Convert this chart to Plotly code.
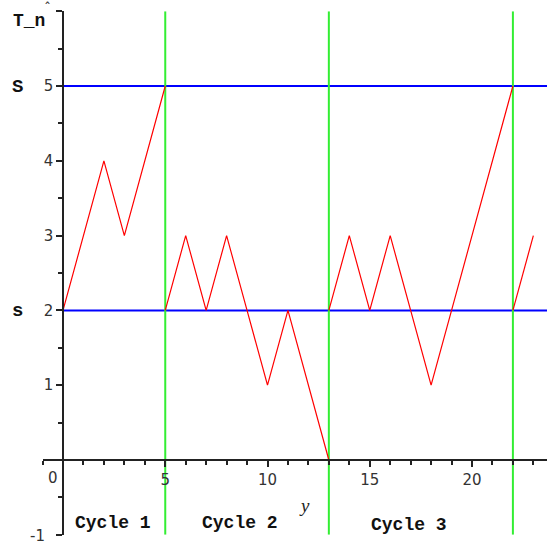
import plotly.graph_objects as go

W, H = 547, 544

# ---- data ----
cycle1_n = [0, 1, 2, 3, 4, 5]
cycle1_T = [2, 3, 4, 3, 4, 5]
cycle2_n = [5, 6, 7, 8, 9, 10, 11, 12, 13]
cycle2_T = [2, 3, 2, 3, 2, 1, 2, 1, 0]
cycle3_n = [13, 14, 15, 16, 17, 18, 19, 20, 21, 22]
cycle3_T = [2, 3, 2, 3, 2, 1, 2, 3, 4, 5]
cycle4_n = [22, 23]
cycle4_T = [2, 3]

cycle_ends = [5, 13, 22]
levels = [2, 5]          # s and S
level_names = ["s", "S"]
cycle_labels = ["Cycle 1", "Cycle 2", "Cycle 3"]
cycle_label_x = [2.45, 8.65, 16.9]
cycle_label_y = [-0.84, -0.84, -0.87]

x_tickvals = [5, 10, 15, 20]
x_ticktext = ["5", "10", "15", "20"]
y_tickvals = [-1, 0, 1, 2, 3, 4, 5, 6]
y_ticktext = ["", "", "1", "2", "3", "4", "5", ""]

# ---- geometry (pixel mapping) ----
px_x0, px_per_x = 63.0, 20.45
px_y0, px_per_y = 460.0, 74.8
x_min = -1.0
x_max = (W - px_x0) / px_per_x
y_min, y_max = -1.0, 6.0

def paper_x(px):
    return px / W

def paper_y(py):
    return 1 - py / H

x_dom = [paper_x(px_x0 + x_min * px_per_x), 1.0]
y_dom = [paper_y(px_y0 - y_min * px_per_y), paper_y(px_y0 - y_max * px_per_y)]

fig = go.Figure()

# horizontal s / S levels
for lv in levels:
    fig.add_trace(go.Scatter(x=[0, x_max], y=[lv, lv], mode="lines",
                             line=dict(color="#0000ff", width=2), hoverinfo="skip"))
# cycle boundaries
for ce in cycle_ends:
    fig.add_trace(go.Scatter(x=[ce, ce], y=[y_min, y_max], mode="lines",
                             line=dict(color="#33ee33", width=2), hoverinfo="skip"))
# random walk
for nn, tt in [(cycle1_n, cycle1_T), (cycle2_n, cycle2_T),
               (cycle3_n, cycle3_T), (cycle4_n, cycle4_T)]:
    fig.add_trace(go.Scatter(x=nn, y=tt, mode="lines",
                             line=dict(color="#ff0000", width=1.2), hoverinfo="skip"))

tick_font = dict(family="DejaVu Sans", size=15, color="#333333")
mono_bold = dict(family="Liberation Mono", size=18, color="#111111")

annotations = []
for lab, lx, ly in zip(cycle_labels, cycle_label_x, cycle_label_y):
    annotations.append(dict(x=lx, y=ly, xref="x", yref="y", text="<b>%s</b>" % lab,
                            showarrow=False, font=mono_bold,
                            xanchor="center", yanchor="middle"))
annotations += [
    dict(x=0, y=0, xref="x", yref="y", text="0", showarrow=False, font=tick_font,
         xshift=-10, yshift=-18, xanchor="center", yanchor="middle"),
    dict(x=paper_x(37), y=paper_y(536), xref="paper", yref="paper", text="-1",
         showarrow=False, font=tick_font, xanchor="center", yanchor="middle"),
    dict(x=paper_x(29), y=paper_y(21), xref="paper", yref="paper", text="<b>T_n</b>",
         showarrow=False, font=dict(family="Liberation Mono", size=18, color="#111111"),
         xanchor="center", yanchor="middle"),
    dict(x=paper_x(47), y=paper_y(8), xref="paper", yref="paper", text="ˆ",
         showarrow=False, font=dict(family="DejaVu Sans", size=14, color="#333333"),
         xanchor="center", yanchor="middle"),
    dict(x=paper_x(305), y=paper_y(505), xref="paper", yref="paper", text="<i>y</i>",
         showarrow=False, font=dict(family="Liberation Serif", size=19, color="#222222"),
         xanchor="center", yanchor="middle"),
]
for name, lv in zip(level_names, levels):
    annotations.append(dict(x=paper_x(17), y=lv, xref="paper", yref="y",
                            text="<b>%s</b>" % name, showarrow=False,
                            font=dict(family="Liberation Mono", size=19, color="#111111"),
                            xanchor="center", yanchor="middle", yshift=-1))

fig.update_layout(
    width=W, height=H,
    margin=dict(l=0, r=0, t=0, b=0),
    paper_bgcolor="white", plot_bgcolor="white",
    showlegend=False,
    annotations=annotations,
    xaxis=dict(domain=x_dom, range=[x_min, x_max], anchor="free",
               position=paper_y(px_y0), showgrid=False, zeroline=False,
               showline=True, linecolor="#222222", linewidth=1.5,
               tickmode="array", tickvals=x_tickvals, ticktext=x_ticktext,
               ticks="outside", ticklen=6, tickwidth=1.5, tickcolor="#222222",
               tickfont=tick_font,
               minor=dict(dtick=1, tick0=0, ticks="outside", ticklen=4,
                          tickwidth=1.5, tickcolor="#222222", showgrid=False)),
    yaxis=dict(domain=y_dom, range=[y_min, y_max], anchor="free",
               position=paper_x(px_x0), showgrid=False, zeroline=False,
               showline=True, linecolor="#222222", linewidth=1.5,
               tickmode="array", tickvals=y_tickvals, ticktext=y_ticktext,
               ticks="outside", ticklen=6, tickwidth=1.5, tickcolor="#222222",
               tickfont=tick_font,
               minor=dict(dtick=0.5, tick0=0, ticks="outside", ticklen=4,
                          tickwidth=1.5, tickcolor="#222222", showgrid=False)),
)

fig.write_html("out.html")
